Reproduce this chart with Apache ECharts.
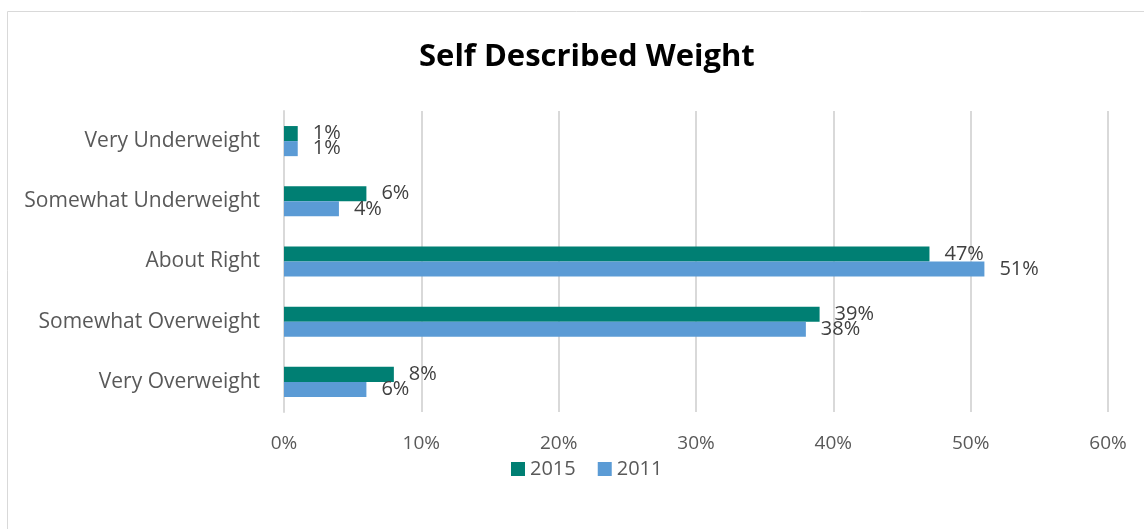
<!DOCTYPE html>
<html>
<head>
<meta charset="utf-8">
<script src="https://cdn.jsdelivr.net/npm/echarts@6/dist/echarts.min.js"></script>
<style>
  html, body { margin: 0; padding: 0; background: #fff; }
  #main { width: 1144px; height: 529px; }
</style>
</head>
<body>
<div id="main"></div>
<script>
var categories = ['Very Underweight', 'Somewhat Underweight', 'About Right', 'Somewhat Overweight', 'Very Overweight'];
var values2015 = [1, 6, 47, 39, 8];
var values2011 = [1, 4, 51, 38, 6];
var xTicks = [0, 10, 20, 30, 40, 50, 60];

var myChart = echarts.init(document.getElementById('main'));
var labelStyle = {
    show: true,
    position: 'right',
    distance: 15,
    formatter: '{c}%',
    fontFamily: 'Open Sans',
    fontSize: 20,
    color: '#404040'
};
var option = {
    animation: false,
    textStyle: { fontFamily: 'Open Sans' },
    graphic: [{
        type: 'rect',
        shape: { x: 7.5, y: 11.5, width: 1150, height: 530 },
        style: { fill: 'none', stroke: '#d9d9d9', lineWidth: 1 },
        silent: true
    }],
    title: {
        text: 'Self Described Weight',
        left: 414,
        top: 37,
        textStyle: { fontFamily: 'Open Sans', fontSize: 31, fontWeight: 'bold', color: '#000' }
    },
    legend: {
        data: ['2015', '2011'],
        bottom: 45,
        left: 506,
        itemWidth: 14,
        itemHeight: 14,
        itemGap: 22,
        icon: 'rect',
        textStyle: { fontSize: 20, color: '#595959' }
    },
    grid: { left: 284, right: 36, top: 111, height: 301, containLabel: false },
    xAxis: {
        type: 'value',
        min: xTicks[0],
        max: xTicks[xTicks.length - 1],
        interval: 10,
        axisLine: { show: false },
        axisTick: { show: false },
        splitLine: { lineStyle: { color: '#d9d9d9', width: 2 } },
        axisLabel: { formatter: '{value}%', fontSize: 19, color: '#595959', margin: 22 }
    },
    yAxis: {
        type: 'category',
        data: categories,
        inverse: true,
        axisLine: { lineStyle: { color: '#d9d9d9', width: 2 } },
        axisTick: { show: false },
        axisLabel: { fontSize: 21, color: '#595959', margin: 24 }
    },
    series: [
        {
            name: '2015',
            type: 'bar',
            data: values2015,
            barGap: '0%',
            barCategoryGap: '50%',
            itemStyle: { color: '#007f73' },
            label: labelStyle
        },
        {
            name: '2011',
            type: 'bar',
            data: values2011,
            itemStyle: { color: '#5b9bd5' },
            label: labelStyle
        }
    ]
};
myChart.setOption(option);
</script>
</body>
</html>
